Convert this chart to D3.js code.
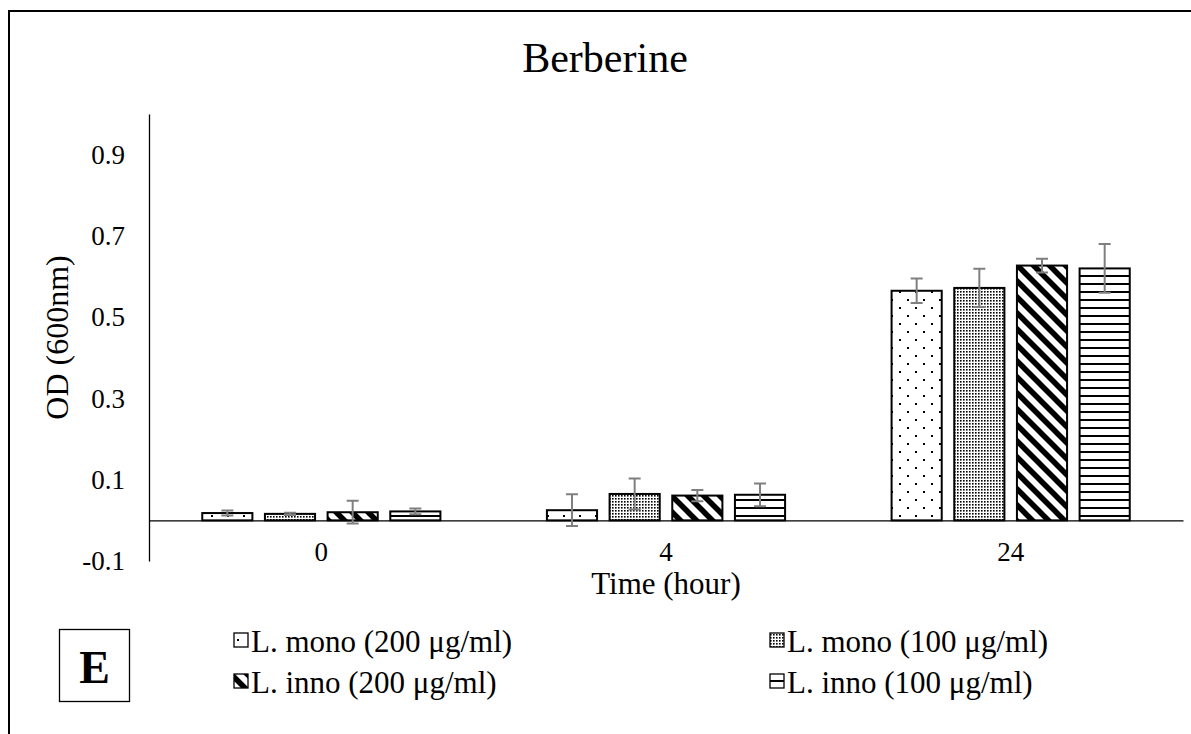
<!DOCTYPE html>
<html>
<head>
<meta charset="utf-8">
<script src="https://d3js.org/d3.v7.min.js"></script>
<style>
  body { margin: 0; background: #fff; }
  text { font-family: "Liberation Serif", "Times New Roman", serif; fill: #000; }
</style>
</head>
<body>
<div id="chart"></div>
<script>
// data
var times = ["0", "4", "24"];
var seriesNames = ["L. mono (200 μg/ml)", "L. mono (100 μg/ml)", "L. inno (200 μg/ml)", "L. inno (100 μg/ml)"];
var lmono200 = [0.018, 0.025, 0.565];
var lmono100 = [0.016, 0.065, 0.572];
var linno200 = [0.020, 0.061, 0.627];
var linno100 = [0.022, 0.063, 0.620];
var lmono200Err = [0.006, 0.039, 0.030];
var lmono100Err = [0.003, 0.038, 0.047];
var linno200Err = [0.028, 0.014, 0.017];
var linno100Err = [0.007, 0.028, 0.060];
var yTicks = [-0.1, 0.1, 0.3, 0.5, 0.7, 0.9];

var series = [
  { name: seriesNames[0], values: lmono200, errs: lmono200Err, pat: "p-sparse" },
  { name: seriesNames[1], values: lmono100, errs: lmono100Err, pat: "p-dense" },
  { name: seriesNames[2], values: linno200, errs: linno200Err, pat: "p-diag" },
  { name: seriesNames[3], values: linno100, errs: linno100Err, pat: "p-horiz" }
];

var W = 1191, H = 734;
var plot = { left: 149, right: 1183, top: 114, bottom: 561 };

var svg = d3.select("#chart").append("svg")
    .attr("width", W)
    .attr("height", H);

// fill patterns
var defs = svg.append("defs");

var p1 = defs.append("pattern").attr("id", "p-sparse")
    .attr("patternUnits", "userSpaceOnUse").attr("width", 16).attr("height", 16);
p1.append("rect").attr("width", 16).attr("height", 16).attr("fill", "#fff");
p1.append("rect").attr("x", 3).attr("y", 3).attr("width", 2).attr("height", 2).attr("fill", "#000");
p1.append("rect").attr("x", 11).attr("y", 11).attr("width", 2).attr("height", 2).attr("fill", "#000");

var p2 = defs.append("pattern").attr("id", "p-dense")
    .attr("patternUnits", "userSpaceOnUse").attr("width", 3).attr("height", 3);
p2.append("rect").attr("width", 3).attr("height", 3).attr("fill", "#fff");
p2.append("rect").attr("width", 1.6).attr("height", 1.6).attr("fill", "#000");

var p3 = defs.append("pattern").attr("id", "p-diag")
    .attr("patternUnits", "userSpaceOnUse").attr("width", 16).attr("height", 16);
p3.append("rect").attr("width", 16).attr("height", 16).attr("fill", "#fff");
p3.append("path").attr("d", "M-4,-4L20,20M-4,12L4,20M12,-4L20,4")
    .attr("stroke", "#000").attr("stroke-width", 5.5);

var p4 = defs.append("pattern").attr("id", "p-horiz")
    .attr("patternUnits", "userSpaceOnUse").attr("width", 8).attr("height", 8);
p4.append("rect").attr("width", 8).attr("height", 8).attr("fill", "#fff");
p4.append("rect").attr("y", 3).attr("width", 8).attr("height", 2).attr("fill", "#000");

// outer frame (only top and left edges show in the crop)
svg.append("path")
    .attr("d", "M9," + H + "V11H" + W)
    .attr("fill", "none").attr("stroke", "#000").attr("stroke-width", 2);

// scales
var x0 = d3.scaleBand().domain(times)
    .range([plot.left, plot.right])
    .paddingInner(0.309).paddingOuter(0.1545);
var x1 = d3.scaleBand().domain(d3.range(series.length))
    .range([0, x0.bandwidth()])
    .paddingInner(0.2).paddingOuter(0);
var y = d3.scaleLinear().domain([-0.1, 1.0]).range([plot.bottom, plot.top]);

// y axis
var yAxis = svg.append("g")
    .attr("transform", "translate(" + plot.left + ",0)")
    .call(d3.axisLeft(y).tickValues(yTicks).tickSize(0).tickPadding(24)
      .tickFormat(function(d) { return d.toFixed(1); }));
yAxis.select(".domain").attr("stroke", "#000").attr("stroke-width", 1.3);
yAxis.selectAll("text").style("font-size", "27px")
    .style("font-family", "'Liberation Serif', serif");

// bars
var groups = svg.append("g").selectAll("g")
  .data(series)
  .enter().append("g");

groups.selectAll("rect")
  .data(function(s, i) { return s.values.map(function(v, j) { return { v: v, t: times[j], i: i, pat: s.pat }; }); })
  .enter().append("rect")
    .attr("x", function(d) { return x0(d.t) + x1(d.i); })
    .attr("y", function(d) { return y(d.v); })
    .attr("width", x1.bandwidth())
    .attr("height", function(d) { return y(0) - y(d.v); })
    .attr("fill", function(d) { return "url(#" + d.pat + ")"; })
    .attr("stroke", "#000")
    .attr("stroke-width", 2);

// x axis on zero line
var xAxis = svg.append("g")
    .attr("transform", "translate(0," + y(0) + ")")
    .call(d3.axisBottom(x0).tickSize(0).tickPadding(21));
xAxis.select(".domain").attr("stroke", "#000").attr("stroke-width", 1.3);
xAxis.selectAll("text").style("font-size", "27px")
    .style("font-family", "'Liberation Serif', serif");

// error bars
var errData = [];
series.forEach(function(s, i) {
  s.values.forEach(function(v, j) {
    errData.push({ cx: x0(times[j]) + x1(i) + x1.bandwidth() / 2, lo: v - s.errs[j], hi: v + s.errs[j] });
  });
});
var eb = svg.append("g").attr("stroke", "#7f7f7f").attr("stroke-width", 2).attr("fill", "none");
eb.selectAll("path").data(errData).enter().append("path")
  .attr("d", function(d) {
    return "M" + d.cx + "," + y(d.hi) + "V" + y(d.lo) +
      "M" + (d.cx - 6) + "," + y(d.hi) + "H" + (d.cx + 6) +
      "M" + (d.cx - 6) + "," + y(d.lo) + "H" + (d.cx + 6);
  });

// titles
svg.append("text")
    .attr("x", 605).attr("y", 72)
    .attr("text-anchor", "middle")
    .style("font-size", "42px")
    .text("Berberine");

svg.append("text")
    .attr("transform", "translate(68," + ((plot.top + plot.bottom) / 2) + ") rotate(-90)")
    .attr("text-anchor", "middle")
    .style("font-size", "32px")
    .text("OD (600nm)");

svg.append("text")
    .attr("x", (plot.left + plot.right) / 2).attr("y", 594)
    .attr("text-anchor", "middle")
    .style("font-size", "31px")
    .text("Time (hour)");

// legend
var legendPos = [[234, 652], [770, 652], [234, 693], [770, 693]];
var legend = svg.append("g").selectAll("g")
  .data(series)
  .enter().append("g")
    .attr("transform", function(d, i) { return "translate(" + legendPos[i][0] + "," + legendPos[i][1] + ")"; });
legend.append("rect")
    .attr("x", 0).attr("y", -19).attr("width", 14).attr("height", 14)
    .attr("fill", function(d) { return "url(#" + d.pat + ")"; })
    .attr("stroke", "#000").attr("stroke-width", 1.3);
legend.append("text")
    .attr("x", 17).attr("y", 0)
    .style("font-size", "31px")
    .text(function(d) { return d.name; });

// panel letter
svg.append("rect")
    .attr("x", 59.5).attr("y", 629.5).attr("width", 70).attr("height", 72)
    .attr("fill", "none").attr("stroke", "#000").attr("stroke-width", 1.3);
svg.append("text")
    .attr("x", 94.5).attr("y", 683)
    .attr("text-anchor", "middle")
    .style("font-size", "46px").style("font-weight", "bold")
    .text("E");
</script>
</body>
</html>
